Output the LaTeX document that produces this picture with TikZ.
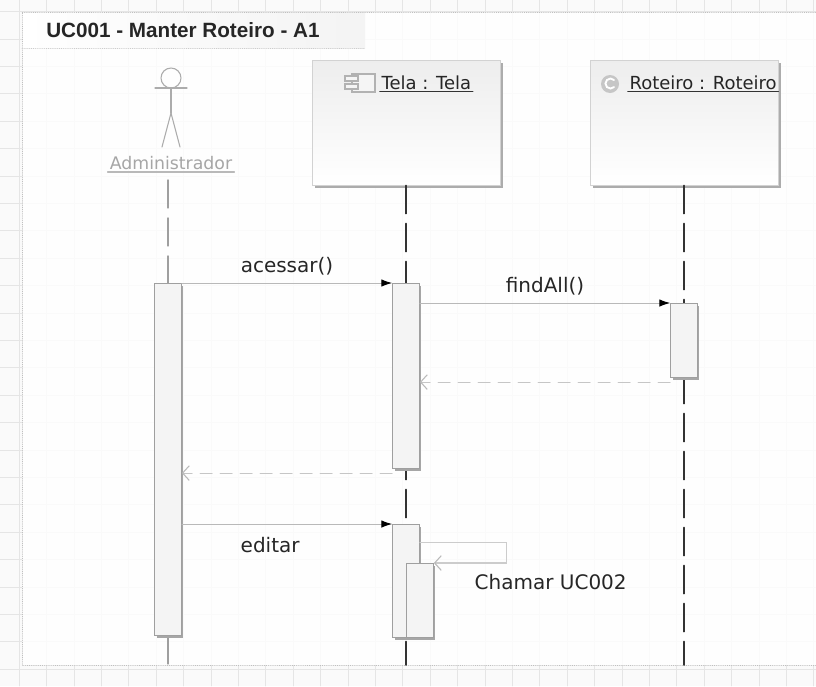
\documentclass[tikz,border=0pt]{standalone}
\usepackage{fontspec}
\setmainfont{DejaVu Sans}
\newfontfamily\titlefont{Liberation Sans}
\usetikzlibrary{arrows.meta,shadows}

\begin{document}
\begin{tikzpicture}[x=0.75pt, y=-0.75pt, line cap=round,
    gridline/.style={gray!20, line width=0.4pt},
    lifeline/.style={black!80, line width=1.4pt, dash pattern=on 21pt off 7.5pt},
    actbar/.style={draw=gray!75, fill=gray!9, line width=0.8pt, minimum width=20pt,
        inner sep=0pt, anchor=north,
        drop shadow={shadow xshift=1.5pt, shadow yshift=-1.5pt, fill=gray!70, opacity=1}},
    objbox/.style={draw=gray!35, top color=gray!14, bottom color=white,
        minimum width=141pt, minimum height=93.75pt, anchor=north west, inner sep=0pt,
        drop shadow={shadow xshift=1.8pt, shadow yshift=-1.8pt, fill=gray!65, opacity=1}},
    msg/.style={gray!55, line width=0.6pt, -{Latex[black, length=8pt, width=5.5pt]}},
    reply/.style={gray!45, line width=0.8pt, dash pattern=on 9pt off 6pt,
        -{Straight Barb[gray!55, length=5pt, width=11pt]}},
    msgtext/.style={text=black!85, font=\fontsize{15}{18}\selectfont},
    headtext/.style={text=black!85, font=\fontsize{13.5}{16}\selectfont, inner sep=1pt}]

    \useasboundingbox (0,0) rectangle (816,686);

    % Canvas with its grid.
    \fill[gray!4] (0,0) rectangle (816,686);
    \foreach \i in {0,...,29} {
        \draw[gridline] (19+27.4*\i,0) -- (19+27.4*\i,686);
    }
    \foreach \j in {0,...,24} {
        \draw[gridline] (0,11.5+27.4*\j) -- (816,11.5+27.4*\j);
    }

    % Frame of the diagram and its title.
    \fill[white, opacity=0.82] (22,12) rectangle (816,665);
    \shade[left color=white, right color=gray!9] (22,12) rectangle (365,48);
    \draw[gray!50, densely dotted] (816,12) -- (22,12) -- (22,665) -- (816,665);
    \draw[gray!40, densely dotted] (22,48) -- (365,48);
    \node[anchor=west, inner sep=0pt, text=black!85,
        font=\titlefont\bfseries\fontsize{15.5}{18}\selectfont]
        (title) at (46,30) {UC001 - Manter Roteiro - A1};

    % Positions used by the lifelines.
    \coordinate (bottom) at (0,665);

    % The actor.
    \begin{scope}[gray!65, line width=0.8pt]
        \draw (171,78) circle (10);
        \draw (155,88) -- (187,88);
        \draw (171,88) -- (171,113);
        \draw (171,113) -- (162,147);
        \draw (171,113) -- (180,147);
    \end{scope}
    \node[text=gray!70, font=\fontsize{13}{16}\selectfont, inner sep=1.5pt]
        (admin) at (171,163) {Administrador};
    \draw[gray!55, line width=0.8pt] (admin.south west) -- (admin.south east);

    % The two objects.
    \node[objbox] (tela) at (312,60) {};
    \node[objbox] (roteiro) at (590,60) {};
    \begin{scope}[gray!60, fill=gray!8, line width=0.8pt]
        \filldraw (352,74) rectangle (375,92);
        \filldraw (345,76) rectangle (358,81);
        \filldraw (345,84) rectangle (358,89);
    \end{scope}
    \fill[gray!45] (610,84) circle (9);
    \draw[white, line width=1.4pt] (614,80) arc (-45:-315:5);
    \node[headtext, anchor=west] (telahead) at (380,83) {Tela : Tela};
    \node[headtext, anchor=west] (roteirohead) at (628,83) {Roteiro : Roteiro};
    \draw[black!80, line width=1.2pt] (telahead.south west) -- (telahead.south east);
    \draw[black!80, line width=1.2pt] (roteirohead.south west) -- (roteirohead.south east);

    % Lifelines.
    \draw[lifeline, gray!75, line width=1pt] (admin.south) ++(-3,8) -- (168,665);
    \draw[lifeline] (tela.south) -- (tela.south |- bottom);
    \draw[lifeline] (roteiro.south) -- (roteiro.south |- bottom);

    % Activations.
    \node[actbar, minimum height=264pt] (actorbar) at (168,283) {};
    \node[actbar, minimum height=138.75pt] (telabar) at (406,283) {};
    \node[actbar, minimum height=55.5pt] (roteirobar) at (684,303) {};
    \node[actbar, minimum height=84.75pt] (telabarb) at (406,524) {};
    \node[actbar, minimum height=55.5pt] (nestbar) at (420,563) {};

    % Messages.
    \draw[msg] (actorbar.north east) -- (telabar.north west)
        node[msgtext, midway, above=2pt] {acessar()};
    \draw[msg] (telabar.east |- roteirobar.north) -- (roteirobar.north west)
        node[msgtext, midway, above=2pt] {findAll()};
    \draw[reply] ([yshift=-3pt]roteirobar.south west)
        -- ([yshift=-3pt]roteirobar.south west -| telabar.east);
    \draw[reply] ([yshift=-3pt]telabar.south west)
        -- ([yshift=-3pt]telabar.south west -| actorbar.east);
    \draw[msg] (actorbar.east |- telabarb.north) -- (telabarb.north west)
        node[msgtext, pos=0.42, below=6pt] {editar};
    \draw[gray!40, line width=0.8pt, -{Straight Barb[gray!55, length=5pt, width=11pt]}]
        ([yshift=-14pt]telabarb.north east) -- ++(87,0) |- (nestbar.north east);
    \node[msgtext, anchor=west] (chamar) at (470,582) {Chamar UC002};
\end{tikzpicture}
\end{document}
